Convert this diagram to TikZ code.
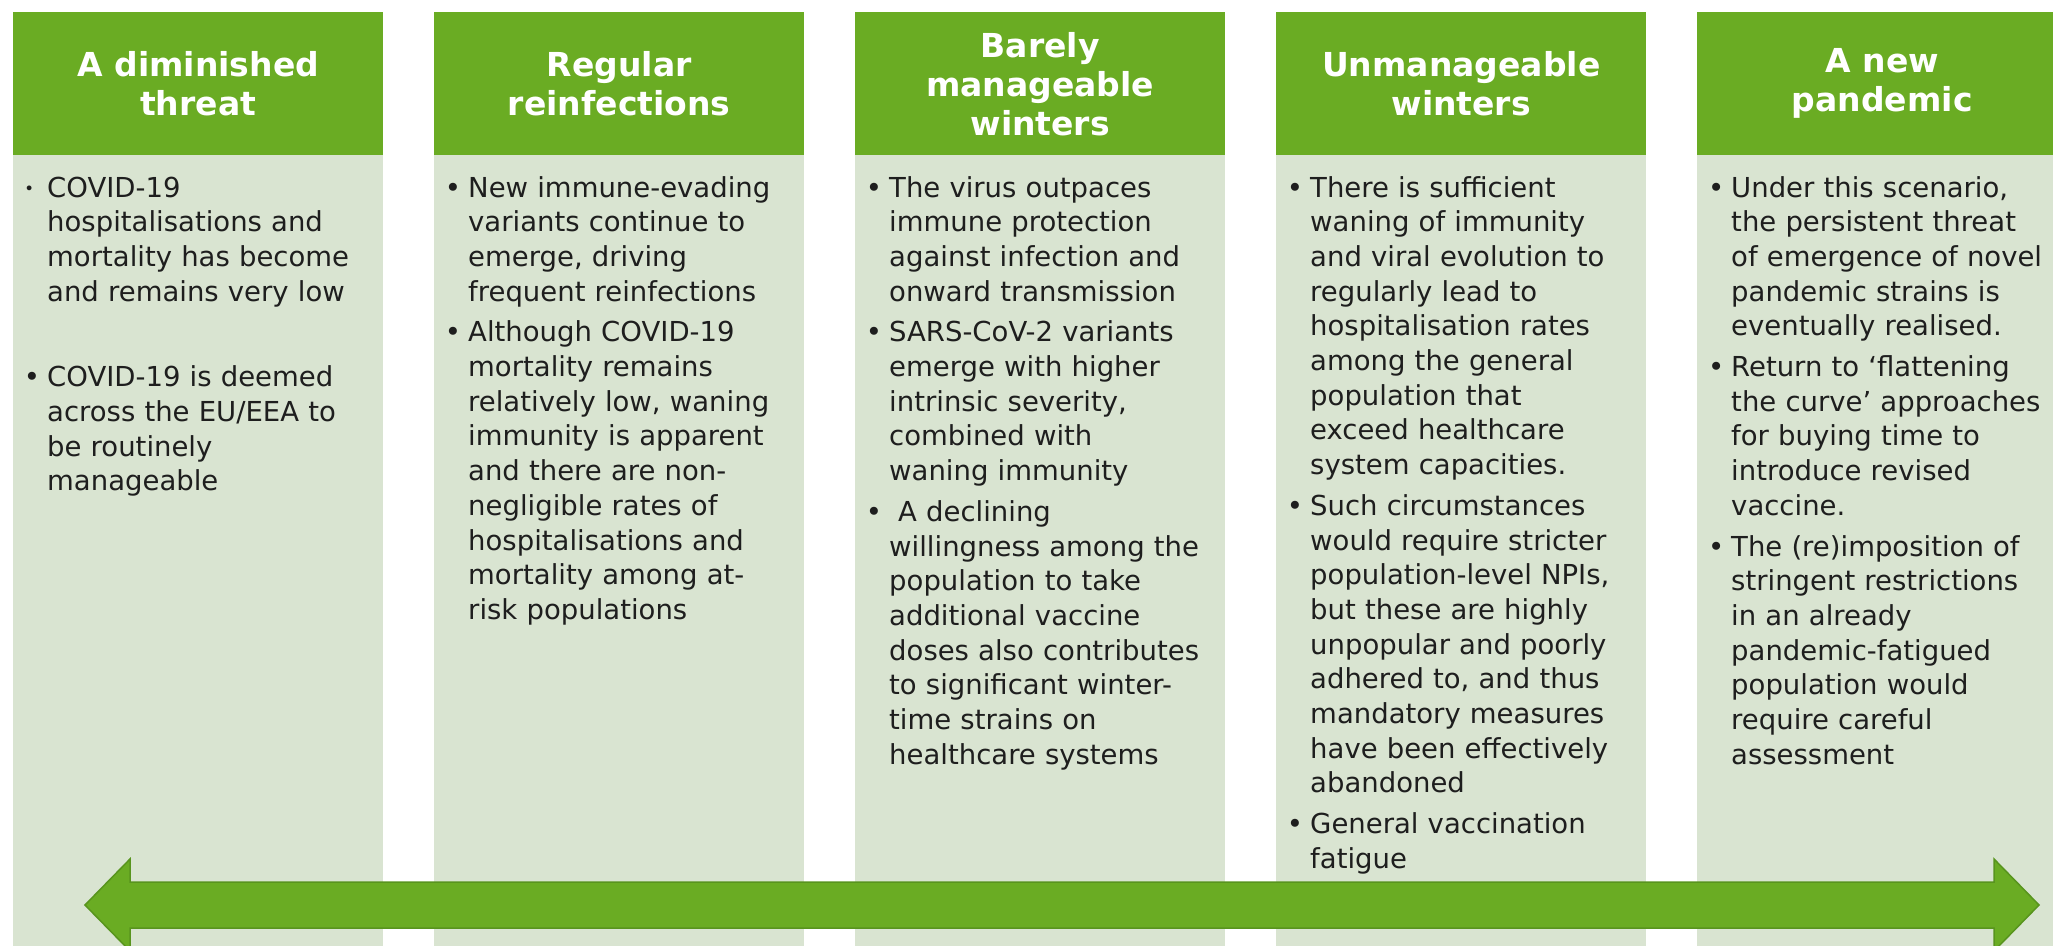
\documentclass[tikz,border=0pt]{standalone}
\usepackage{fontspec}
\setmainfont{DejaVu Sans}
\usetikzlibrary{calc}
\definecolor{hdr}{RGB}{106,172,35}
\definecolor{bodyc}{RGB}{217,228,209}
\definecolor{arrowedge}{RGB}{88,148,30}
\definecolor{txt}{RGB}{30,30,30}
\tikzset{
  hdrbox/.style={fill=hdr, draw=none, minimum width=370pt, minimum height=143pt, anchor=north west, inner sep=0pt,
                 text=white, font=\fontsize{33}{39}\selectfont\bfseries, align=center},
  bodybox/.style={fill=bodyc, draw=none, minimum width=370pt, minimum height=800pt, anchor=north west, inner sep=0pt},
  bodytext/.style={text=txt, font=\fontsize{27.5}{34.7}\selectfont, align=left, text width=345pt, inner sep=0pt, anchor=base west},
  arrowshape/.style={draw=arrowedge, fill=hdr, line width=1.5pt, line join=miter}
}
\newcommand{\bul}{\makebox[0pt][r]{•\hspace{7pt}}}
\newcommand{\smallbul}{\makebox[0pt][r]{\raisebox{3pt}{\scalebox{0.6}{•}}\hspace{13pt}}}
\newcommand{\itemgap}{\par\vspace{6pt}}
\begin{document}
\begin{tikzpicture}[x=1pt,y=-1pt]
\fill[white] (0,0) rectangle (2053,945);
\useasboundingbox (0,0) rectangle (2053,945);

% column bodies
\node[bodybox] (b1) at (13,155) {};
\node[bodybox] (b2) at (434,155) {};
\node[bodybox] (b3) at (855,155) {};
\node[bodybox] (b4) at (1276,155) {};
\node[bodybox] (b5) at (1697,155) {};

% headers
\node[hdrbox] (h1) at (13,12) {A diminished\\threat};
\node[hdrbox] (h2) at (434,12) {Regular\\reinfections};
\node[hdrbox] (h3) at (855,12) {Barely\\manageable\\winters};
\node[hdrbox] (h4) at (1276,12) {Unmanageable\\winters};
\node[hdrbox] (h5) at (1697,12) {A new\\pandemic};

% texts
\node[bodytext] (t1) at (47,197) {%
\smallbul COVID-19\\
hospitalisations and\\
mortality has become\\
and remains very low\par\vspace{51pt}
\bul COVID-19 is deemed\\
across the EU/EEA to\\
be routinely\\
manageable};

\node[bodytext] (t2) at (468,197) {%
\bul New immune-evading\\
variants continue to\\
emerge, driving\\
frequent reinfections\itemgap
\bul Although COVID-19\\
mortality remains\\
relatively low, waning\\
immunity is apparent\\
and there are non-\\
negligible rates of\\
hospitalisations and\\
mortality among at-\\
risk populations};

\node[bodytext] (t3) at (889,197) {%
\bul The virus outpaces\\
immune protection\\
against infection and\\
onward transmission\itemgap
\bul SARS-CoV-2 variants\\
emerge with higher\\
intrinsic severity,\\
combined with\\
waning immunity\itemgap
\bul\hspace{9pt}A declining\\
willingness among the\\
population to take\\
additional vaccine\\
doses also contributes\\
to significant winter-\\
time strains on\\
healthcare systems};

\node[bodytext] (t4) at (1310,197) {%
\bul There is sufficient\\
waning of immunity\\
and viral evolution to\\
regularly lead to\\
hospitalisation rates\\
among the general\\
population that\\
exceed healthcare\\
system capacities.\itemgap
\bul Such circumstances\\
would require stricter\\
population-level NPIs,\\
but these are highly\\
unpopular and poorly\\
adhered to, and thus\\
mandatory measures\\
have been effectively\\
abandoned\itemgap
\bul General vaccination\\
fatigue};

\node[bodytext] (t5) at (1731,197) {%
\bul Under this scenario,\\
the persistent threat\\
of emergence of novel\\
pandemic strains is\\
eventually realised.\itemgap
\bul Return to ‘flattening\\
the curve’ approaches\\
for buying time to\\
introduce revised\\
vaccine.\itemgap
\bul The (re)imposition of\\
stringent restrictions\\
in an already\\
pandemic-fatigued\\
population would\\
require careful\\
assessment};

% double-headed arrow
\coordinate (aL) at (85,905);
\coordinate (aR) at (2039,905);
\draw[arrowshape] (aL) -- ++(45,-46) -- ++(0,23) -- ($(aR)+(-45,-23)$) -- ++(0,-23) -- (aR)
  -- ++(-45,46) -- ++(0,-23) -- ($(aL)+(45,23)$) -- ++(0,23) -- cycle;
\end{tikzpicture}
\end{document}
